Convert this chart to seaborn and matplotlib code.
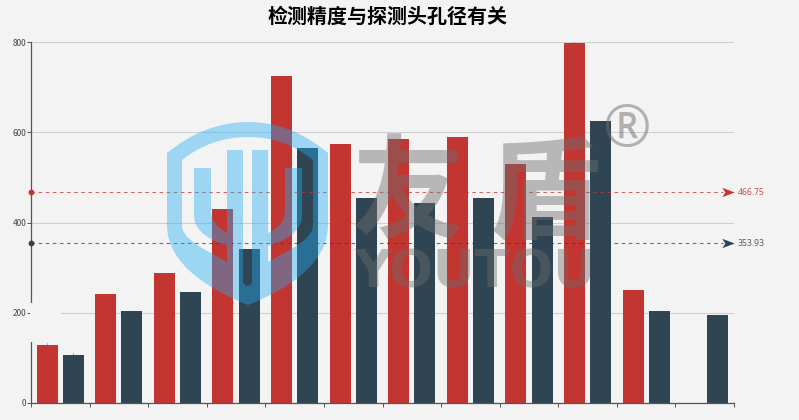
import numpy as np
import pandas as pd
import matplotlib
matplotlib.use("Agg")
import matplotlib.pyplot as plt
from matplotlib.path import Path as MPath
from matplotlib.patches import PathPatch, Rectangle
import seaborn as sns

# ── veri ────────────────────────────────────────────────────────────────────
CATEGORIES = [f"c{i}" for i in range(1, 13)]
RED_VALUES = [128, 242, 288, 430, 724, 573, 585, 590, 530, 798, 250, np.nan]
BLUE_VALUES = [106, 203, 245, 342, 565, 455, 444, 454, 412, 625, 204, 195]
MEAN_VALUES = [466.75, 353.93]
MEAN_LABELS = ["466.75", "353.93"]
Y_TICKS = [0, 200, 400, 600, 800]
TITLE = "检测精度与探测头孔径有关"

# ── stil ────────────────────────────────────────────────────────────────────
W, H = 799, 420
BG = "#f3f3f3"
RED = "#c23531"
BLUE = "#2f4554"
LOGO = "#22adf3"
GREY = "#6e6e6e"
LEFT, RIGHT, TOP, BOTTOM = 31, 734, 42, 403

sns.set_theme(style="ticks")
plt.rcParams["font.family"] = ["Noto Sans CJK SC", "DejaVu Sans"]

fig = plt.figure(figsize=(W / 100, H / 100), dpi=100, facecolor=BG)
ax = fig.add_axes([LEFT / W, 1 - BOTTOM / H, (RIGHT - LEFT) / W, (BOTTOM - TOP) / H], facecolor=BG)

df = pd.DataFrame({
    "cat": CATEGORIES * 2,
    "series": ["a"] * len(CATEGORIES) + ["b"] * len(CATEGORIES),
    "value": RED_VALUES + BLUE_VALUES,
})
sns.barplot(data=df, x="cat", y="value", hue="series", palette={"a": RED, "b": BLUE},
            width=0.895, gap=0.2, saturation=1, legend=False, linewidth=0, ax=ax)

# barların tepesindeki küçük çizgiler
for container, i, clr in [(ax.containers[0], 0, RED), (ax.containers[1], 0, BLUE), (ax.containers[0], 9, RED)]:
    bar = container[i]
    cx = bar.get_x() + bar.get_width() / 2
    ax.plot([cx, cx], [bar.get_height(), bar.get_height() + 5], color=clr, lw=0.5, alpha=0.7)

ax.set_xlim(-0.5, 11.5)
ax.set_ylim(0, 800)
ax.set_xticks(np.arange(-0.5, 12))
ax.set_xticklabels([])
ax.set_yticks(Y_TICKS)
ax.set_xlabel("")
ax.set_ylabel("")
ax.set_axisbelow(True)
ax.grid(axis="y", color="#cfcfcf", lw=0.8)
ax.tick_params(axis="both", length=3, width=0.7, color="#555555", pad=0.5, labelsize=6, labelcolor="#444444")
sns.despine(ax=ax, top=True, right=True)
for side in ["left", "bottom"]:
    ax.spines[side].set_color("#555555")
    ax.spines[side].set_linewidth(0.9)

# ortalama çizgileri
arrow = MPath([(-1, -0.75), (1, 0), (-1, 0.75), (-0.5, 0), (-1, -0.75)],
              [MPath.MOVETO, MPath.LINETO, MPath.LINETO, MPath.LINETO, MPath.CLOSEPOLY])
trans = ax.get_yaxis_transform()
for val, label, clr in zip(MEAN_VALUES, MEAN_LABELS, [RED, BLUE]):
    ax.plot([0, 0.985], [val, val], transform=trans, color=clr, lw=0.8, alpha=0.75, ls=(0, (3.2, 3.2)),
            clip_on=False, zorder=3)
    ax.plot([0], [val], transform=trans, marker="o", ms=4.2, color=clr, mew=0, clip_on=False, zorder=4)
    ax.plot([0.9915], [val], transform=trans, marker=arrow, ms=9, color=clr, mew=0, clip_on=False, zorder=4)
    ax.text(1.0055, val, label, transform=trans, color=clr, fontsize=6.2, va="center", ha="left",
            family="Noto Sans", alpha=0.85, clip_on=False)

fig.text(387.5 / W, 1 - 16 / H, TITLE, ha="center", va="center", fontsize=14.4, fontweight="bold", color="#000000")

# ── filigran ────────────────────────────────────────────────────────────────
wm = fig.add_axes([0, 0, 1, 1], facecolor="none", zorder=5)
wm.set_xlim(0, W)
wm.set_ylim(H, 0)
wm.axis("off")

# filigran eksenin bir kısmını siliyor
wm.add_patch(Rectangle((30, 303), 31, 39, facecolor=BG, edgecolor="none", zorder=1))

M, L, Q, C, Z = MPath.MOVETO, MPath.LINETO, MPath.CURVE3, MPath.CURVE4, MPath.CLOSEPOLY
verts, codes = [], []


def add(*segs):
    for code, *pts in segs:
        n = {M: 1, L: 1, Q: 2, C: 3, Z: 1}[code]
        verts.extend(pts)
        codes.extend([code] * n)


# dış kalkan
add((M, (167, 153)), (Q, (205, 122), (248, 122)), (Q, (291, 122), (328, 153)), (L, (328, 225)),
    (C, (328, 265), (285, 290), (248, 305)), (C, (211, 290), (167, 265), (167, 225)), (L, (167, 153)), (Z, (0, 0)))
# iç boşluk (ters yön)
add((M, (182, 160)), (L, (182, 225)), (C, (182, 240), (205, 250), (243, 270)), (L, (243, 283)),
    (Q, (247.5, 289), (252, 283)), (L, (252, 270)), (C, (290, 250), (313, 240), (313, 225)), (L, (313, 160)),
    (Q, (285, 137), (248, 137)), (Q, (211, 137), (182, 160)), (Z, (0, 0)))
# orta şeritler
for x0, x1 in [(227, 243), (252, 268)]:
    add((M, (x0, 150)), (L, (x1, 150)), (L, (x1, 275)), (L, (x0, 275)), (L, (x0, 150)), (Z, (0, 0)))
# U kolları
add((M, (194, 168)), (L, (211, 168)), (L, (211, 212)), (C, (211, 222), (220, 230), (230, 234)),
    (L, (230, 246)), (C, (212, 242), (194, 232), (194, 215)), (L, (194, 168)), (Z, (0, 0)))
add((M, (285, 168)), (L, (302, 168)), (L, (302, 215)), (C, (302, 232), (284, 242), (266, 246)),
    (L, (266, 234)), (C, (276, 230), (285, 222), (285, 212)), (L, (285, 168)), (Z, (0, 0)))
wm.add_patch(PathPatch(MPath(verts, codes), facecolor=LOGO, edgecolor="none", alpha=0.41, zorder=2))

wm.text(408, 196, "友", fontsize=81, fontweight="bold", color=GREY, alpha=0.45, ha="center", va="center", zorder=3)
wm.text(545, 196, "盾", fontsize=81, fontweight="bold", color=GREY, alpha=0.45, ha="center", va="center", zorder=3)
wm.text(475, 273, "YOUTOU", fontsize=37, fontweight="bold", family="DejaVu Sans", color=GREY, alpha=0.42,
        ha="center", va="center", zorder=3)
wm.text(626, 131, "®", fontsize=42, family="Open Sans", color=GREY, alpha=0.5, ha="center", va="center", zorder=3)

fig.savefig("out.png", dpi=100, facecolor=BG)
